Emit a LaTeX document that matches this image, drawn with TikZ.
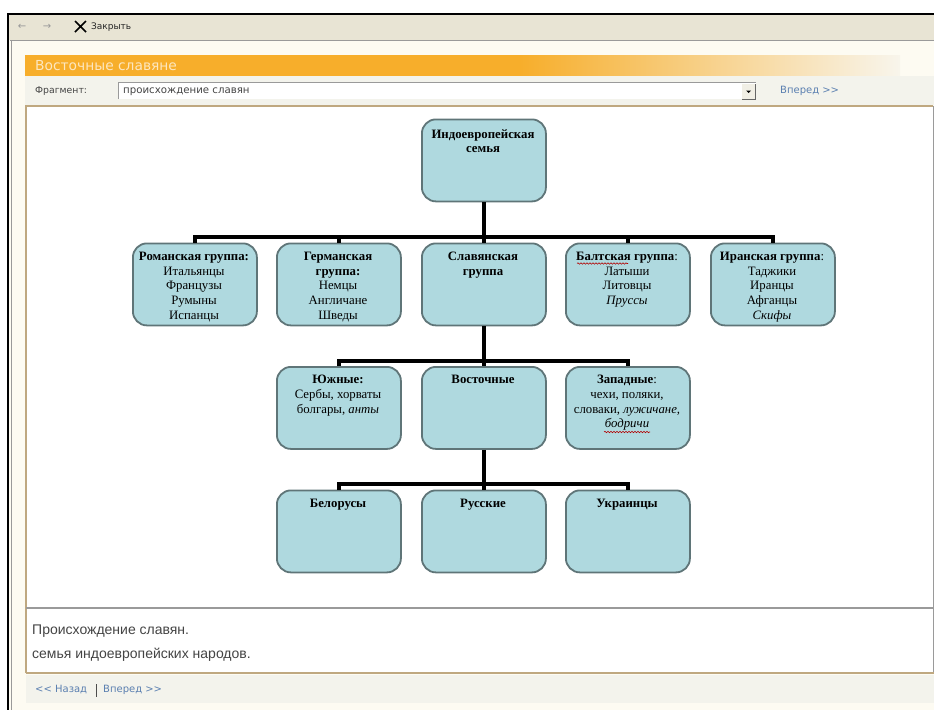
\documentclass[tikz,border=0pt]{standalone}
\usepackage{fontspec}
\usetikzlibrary{decorations.pathmorphing}
\setmainfont{Liberation Serif}
\newfontfamily\uifont{Liberation Sans}
\newfontfamily\verdana{DejaVu Sans}
\definecolor{boxfill}{HTML}{AFD9DF}
\definecolor{boxline}{HTML}{5F7578}
\definecolor{chrome}{HTML}{E8E4D4}
\definecolor{cream}{HTML}{FDFBF2}
\definecolor{bandor}{HTML}{F7AE2B}
\definecolor{bandend}{HTML}{F8F5EC}
\definecolor{barbg}{HTML}{F3F3EC}
\definecolor{linkc}{HTML}{5A7FB0}
\definecolor{tan}{HTML}{BFA880}
\definecolor{greyl}{HTML}{9A9A9A}
\definecolor{uitext}{HTML}{444444}
\tikzset{x=1pt,y=-1pt,
 famb/.style={draw=boxline,line width=1.8pt,fill=boxfill,rounded corners=14pt,minimum width=124pt,minimum height=82pt,anchor=north west,inner sep=0pt},
 lbl/.style={anchor=north,align=center,font=\fontsize{12.8}{14.7}\selectfont,inner sep=0pt,text=black},
 conn/.style={line width=4.2pt,draw=black,line cap=butt},
 uismall/.style={font=\verdana\fontsize{9.3}{11}\selectfont,text=uitext,inner sep=0pt,anchor=west},
 linkt/.style={font=\verdana\fontsize{10}{12}\selectfont,text=linkc,inner sep=0pt,anchor=west},
 bigt/.style={font=\uifont\fontsize{14}{16}\selectfont,text=uitext,inner sep=0pt,anchor=west},
 squig/.style={draw=red!70!black,line width=.6pt,decorate,decoration={snake,amplitude=.7pt,segment length=3pt}}}
\begin{document}
\begin{tikzpicture}
\useasboundingbox (0,0) rectangle (934,710);
\fill[white] (0,0) rectangle (934,710);
% window
\fill[cream] (9,14) rectangle (934,710);
\fill[chrome] (9,14) rectangle (934,40);
\draw[greyl,line width=.8pt] (10,40.5) -- (934,40.5);
\draw[greyl,line width=.8pt] (11,40) -- (11,710);
\draw[black,line width=2pt] (934,14) -- (8,14) -- (8,710);
% toolbar
\node[font=\verdana\fontsize{10}{10}\selectfont,text=black!40,inner sep=0pt] (bk) at (22,27) {←};
\node[font=\verdana\fontsize{10}{10}\selectfont,text=black!40,inner sep=0pt] (fw) at (47,27) {→};
\draw[black,line width=1.5pt] (75,21) -- (86,32) (86,21) -- (75,32);
\node[font=\verdana\fontsize{9}{10}\selectfont,text=black!85,inner sep=0pt,anchor=west] (cl) at (91,27) {Закрыть};
% title band
\fill[bandor] (25,55) rectangle (520,76);
\shade[left color=bandor,right color=bandend] (520,55) rectangle (900,76);
\node[font=\verdana\fontsize{13.8}{15}\selectfont,text=white!70!bandor,inner sep=0pt,anchor=west] (ttl) at (35,65.5) {Восточные славяне};
% fragment row
\fill[barbg] (25,76) rectangle (934,105);
\node[uismall] (fr) at (35,91) {Фрагмент:};
\fill[white] (118,82) rectangle (756,99);
\draw[greyl,line width=1pt] (118,99) -- (118,82) -- (756,82);
\node[uismall,font=\verdana\fontsize{10.2}{12}\selectfont] (fv) at (123,92) {происхождение славян};
\fill[chrome!60] (742,84) rectangle (755,99);
\draw[black!60,line width=.6pt] (742,99) -- (755,99) -- (755,84);
\fill[black] (746,90.5) -- (751,90.5) -- (748.5,93) -- cycle;
\node[linkt] (vp) at (780,91) {Вперед >>};
% main panel
\fill[white] (26,106) rectangle (933,673);
\draw[tan,line width=1.6pt] (26,673) -- (26,106) -- (933,106);
\draw[greyl,line width=.8pt] (933,106) -- (933,673);
\draw[tan,line width=1.6pt] (26,673) -- (934,673);
\draw[greyl,line width=1.2pt] (26,608) -- (933,608);
\node[bigt] (p1) at (32,631) {Происхождение славян.};
\node[bigt] (p2) at (32,655) {семья индоевропейских народов.};
% footer
\fill[barbg] (26,675) rectangle (934,703);
\node[linkt] (nz) at (35,690) {<< Назад};
\draw[black!70,line width=.8pt] (96,684) -- (96,697);
\node[linkt] (vp2) at (103,690) {Вперед >>};
% connectors
\coordinate (j1) at (483,237);
\coordinate (j2) at (483,361);
\coordinate (j3) at (483,484);
% boxes
\node[famb] (ie) at (421,118.5) {};
\node[famb] (rom) at (132,242.5) {};
\node[famb] (ger) at (276,242.5) {};
\node[famb] (sl) at (421,242.5) {};
\node[famb] (bal) at (565,242.5) {};
\node[famb] (ir) at (710,242.5) {};
\node[famb] (yu) at (276,366) {};
\node[famb] (vo) at (421,366) {};
\node[famb] (za) at (565,366) {};
\node[famb] (be) at (276,489.5) {};
\node[famb] (ru) at (421,489.5) {};
\node[famb] (uk) at (565,489.5) {};
\draw[conn] (ie.south) -- (sl.north);
\draw[conn] (sl.south) -- (vo.north);
\draw[conn] (vo.south) -- (ru.north);
\draw[conn] (rom.north) -- (rom.north |- j1) -- (ir.north |- j1) -- (ir.north);
\draw[conn] (ger.north) -- (ger.north |- j1);
\draw[conn] (bal.north) -- (bal.north |- j1);
\draw[conn] (yu.north) -- (yu.north |- j2) -- (za.north |- j2) -- (za.north);
\draw[conn] (be.north) -- (be.north |- j3) -- (uk.north |- j3) -- (uk.north);
% labels
\node[lbl] (tie) at (483,129) {\textbf{Индоевропейская}\\\textbf{семья}};
\node[lbl] (trom) at (194,252) {\textbf{Романская группа:}\\Итальянцы\\Французы\\Румыны\\Испанцы};
\node[lbl] (tger) at (338,252) {\textbf{Германская}\\\textbf{группа:}\\Немцы\\Англичане\\Шведы};
\node[lbl] (tsl) at (483,252) {\textbf{Славянская}\\\textbf{группа}};
\node[lbl] (tbal) at (627,252) {\textbf{Балтская группа}:\\Латыши\\Литовцы\\\textit{Пруссы}};
\node[lbl] (tir) at (772,252) {\textbf{Иранская группа}:\\Таджики\\Иранцы\\Афганцы\\\textit{Скифы}};
\node[lbl] (tyu) at (338,375) {\textbf{Южные:}\\Сербы, хорваты\\болгары, \textit{анты}};
\node[lbl] (tvo) at (483,375) {\textbf{Восточные}};
\node[lbl] (tza) at (627,375) {\textbf{Западные}:\\чехи, поляки,\\словаки, \textit{лужичане,}\\\textit{бодричи}};
\node[lbl] (tbe) at (338,499) {\textbf{Белорусы}};
\node[lbl] (tru) at (483,499) {\textbf{Русские}};
\node[lbl] (tuk) at (627,499) {\textbf{Украинцы}};
\draw[squig] (577,263.5) -- (628,263.5);
\draw[squig] (604,432) -- (650,432);
\end{tikzpicture}
\end{document}
